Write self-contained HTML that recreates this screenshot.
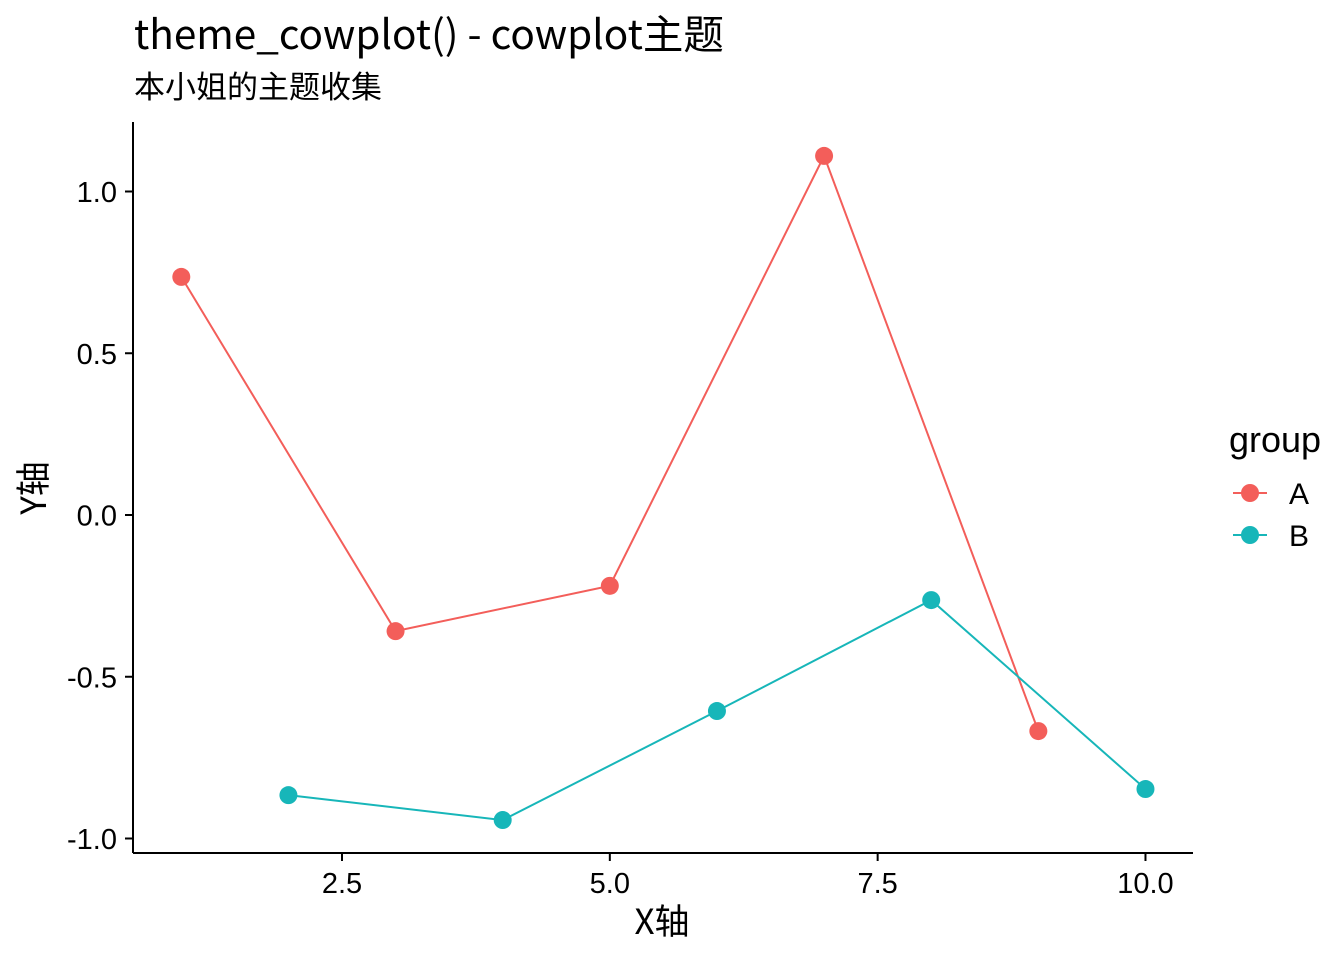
<!DOCTYPE html>
<html><head><meta charset="utf-8"><style>
body{margin:0;background:#fff;}
svg{display:block;font-family:"Liberation Sans","Noto Sans CJK SC",sans-serif;}
.cjk{font-family:"Noto Sans CJK SC","Liberation Sans",sans-serif;}
</style></head><body>
<svg id="chart" width="1344" height="960" viewBox="0 0 1344 960">
<text class="cjk" x="134" y="49" font-size="40.5" fill="#000">theme_cowplot() - cowplot主题</text>
<text class="cjk" x="134" y="98" font-size="31" fill="#000">本小姐的主题收集</text>
<g id="plot"></g>
<text class="cjk" x="662" y="934" font-size="35" text-anchor="middle">X轴</text>
<text class="cjk" transform="translate(46,488) rotate(-90)" font-size="35" text-anchor="middle">Y轴</text>
<g>
<text x="1229" y="452" font-size="36">group</text>
<g>
<line x1="1233" y1="493" x2="1267" y2="493" stroke="#F35E5A" stroke-width="2"/>
<circle cx="1250" cy="493" r="9" fill="#F35E5A"/>
<text x="1289" y="504" font-size="30">A</text></g>
<g>
<line x1="1233" y1="535" x2="1267" y2="535" stroke="#17B6B9" stroke-width="2"/>
<circle cx="1250" cy="535" r="9" fill="#17B6B9"/>
<text x="1289" y="546" font-size="30">B</text></g>
</g>
</svg>
<script>
const xA=[1,3,5,7,9];
const yA=[0.736,-0.359,-0.219,1.110,-0.668];
const xB=[2,4,6,8,10];
const yB=[-0.866,-0.943,-0.606,-0.263,-0.847];
const xTicks=[2.5,5.0,7.5,10.0];
const xTickLabels=["2.5","5.0","7.5","10.0"];
const yTicks=[1.0,0.5,0.0,-0.5,-1.0];
const yTickLabels=["1.0","0.5","0.0","-0.5","-1.0"];
const NS="http://www.w3.org/2000/svg";
const sx=v=>342+(v-2.5)*107.13;
const sy=v=>515-v*323.5;
const g=document.getElementById('plot');
function mk(t,a){const e=document.createElementNS(NS,t);for(const k in a)e.setAttribute(k,a[k]);g.appendChild(e);return e;}
let e=mk('line',{x1:133,y1:122,x2:133,y2:853,stroke:'#000','stroke-width':2});


e=mk('line',{x1:133,y1:853,x2:1193,y2:853,stroke:'#000','stroke-width':2});


xTicks.forEach((v,i)=>{
 let t=mk('line',{x1:sx(v),y1:853,x2:sx(v),y2:861,stroke:'#000','stroke-width':2});
 
 
 let l=mk('text',{x:sx(v),y:893,'font-size':29,'text-anchor':'middle'});l.textContent=xTickLabels[i];
 
 
});
yTicks.forEach((v,i)=>{
 let t=mk('line',{x1:125,y1:sy(v),x2:133,y2:sy(v),stroke:'#000','stroke-width':2});
 
 
 let l=mk('text',{x:117,y:sy(v)+10.5,'font-size':29,'text-anchor':'end'});l.textContent=yTickLabels[i];
 
 
});
function series(xs,ys,col,name){
 let p=mk('polyline',{points:xs.map((x,i)=>sx(x)+','+sy(ys[i])).join(' '),fill:'none',stroke:col,'stroke-width':2});
 
 
 xs.forEach((x,i)=>{
  let c=mk('circle',{cx:sx(x),cy:sy(ys[i]),r:9,fill:col});
  
  
 });
}
series(xA,yA,'#F35E5A','a');
series(xB,yB,'#17B6B9','b');
</script>
</body></html>
